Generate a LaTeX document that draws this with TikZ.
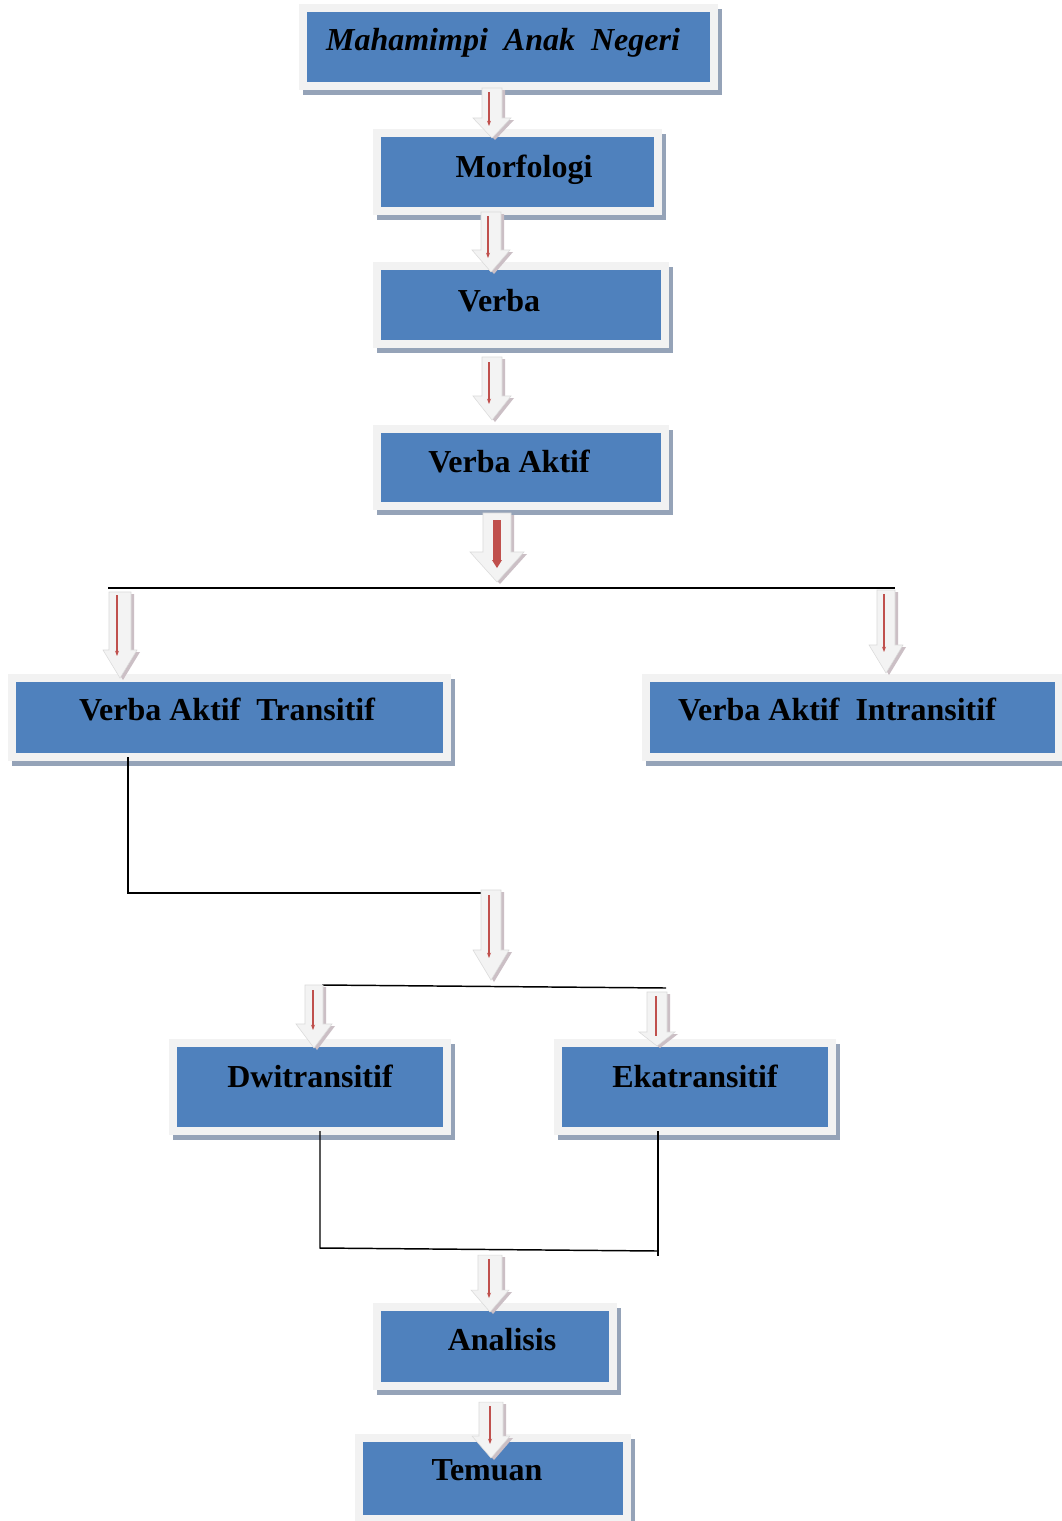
\documentclass[tikz,border=0pt]{standalone}
\usepackage{fontspec}
\setmainfont{Liberation Serif}
\usetikzlibrary{fit,arrows.meta}
\definecolor{boxblue}{HTML}{4F81BD}
\definecolor{boxrim}{HTML}{F2F2F2}
\definecolor{boxshade}{HTML}{95A3B8}
\definecolor{arrfill}{HTML}{F3F3F3}
\definecolor{arredge}{HTML}{DADADA}
\definecolor{arrshade}{HTML}{CBBFC5}
\definecolor{redline}{HTML}{C0504D}
\tikzset{
  box/.style={rectangle, inner sep=0pt, outer sep=0pt, fill=boxblue, draw=boxrim, line width=6pt,
    preaction={fill=boxshade, draw=boxshade, line width=6pt, transform canvas={shift={(4,5)}}}},
  lbl/.style={anchor=base, inner sep=0pt, font=\fontsize{24}{28}\selectfont\bfseries},
  conn/.style={draw=black, line width=1.1pt},
}
% x, ytop, ytip, shaft half, head half, head length
\newcommand{\blockarrow}[6]{%
  \fill[arrshade] ({#1-#4+3},{#2+2}) -- ({#1+#4+3},{#2+2}) -- ({#1+#4+3},{#3-#6+2}) -- ({#1+#5+3},{#3-#6+2}) -- ({#1+3},{#3+2}) -- ({#1-#5+3},{#3-#6+2}) -- ({#1-#4+3},{#3-#6+2}) -- cycle;
  \filldraw[fill=arrfill, draw=arredge, line width=0.4pt] ({#1-#4},{#2}) -- ({#1+#4},{#2}) -- ({#1+#4},{#3-#6}) -- ({#1+#5},{#3-#6}) -- ({#1},{#3}) -- ({#1-#5},{#3-#6}) -- ({#1-#4},{#3-#6}) -- cycle;
}
\newcommand{\redstem}[3]{%
  \draw[redline, line width=0.9pt, -{Stealth[length=4pt,width=3pt]}] ({#1},{#2}) -- ({#1},{#3});
}
\begin{document}
\begin{tikzpicture}[x=0.75pt, y=-0.75pt]
\useasboundingbox (0,0) rectangle (1062,1521);
\fill[white] (0,0) rectangle (1062,1521);

% boxes
\node[box, fit={(303,8) (714,86)}] (b1) {};
\node[box, fit={(377,133) (658,211)}] (b2) {};
\node[box, fit={(377,266) (665,344)}] (b3) {};
\node[box, fit={(377,429) (665,506)}] (b4) {};
\node[box, fit={(12,678) (447,757)}] (b5) {};
\node[box, fit={(646,678) (1059,757)}] (b6) {};
\node[box, fit={(173,1043) (447,1131)}] (b7) {};
\node[box, fit={(558,1043) (832,1131)}] (b8) {};
\node[box, fit={(377,1307) (613,1386)}] (b9) {};
\node[box, fit={(359,1438) (627,1519)}] (b10) {};

% labels
\node[lbl, font=\fontsize{24}{28}\selectfont\bfseries\itshape] (t1) at (503,50) {Mahamimpi\ \ Anak\ \ Negeri};
\node[lbl] (t2) at (524,177) {Morfologi};
\node[lbl] (t3) at (499,311) {Verba};
\node[lbl] (t4) at (509,472) {Verba Aktif};
\node[lbl] (t5) at (227,720) {Verba Aktif\ \ Transitif};
\node[lbl] (t6) at (837,720) {Verba Aktif\ \ Intransitif};
\node[lbl] (t7) at (310,1087) {Dwitransitif};
\node[lbl] (t8) at (695,1087) {Ekatransitif};
\node[lbl] (t9) at (502,1350) {Analisis};
\node[lbl] (t10) at (487,1480) {Temuan};

% connector lines
\coordinate (jl) at (108,588);
\coordinate (jr) at (895,588);
\draw[conn] (jl) -- (jr);
\coordinate (c1) at (128,893);
\coordinate (c2) at (482,893);
\draw[conn] (b5.south -| c1) -- (c1) -- (c2);
\coordinate (d1) at (322,985);
\coordinate (d2) at (666,988);
\draw[conn] (d1) -- (d2);
\coordinate (e1) at (320,1248);
\coordinate (e2) at (658,1251);
\coordinate (e3) at (658,1256);
\draw[conn] (b7.south -| e1) -- (e1) -- (e2);
\draw[conn] (b8.south -| e3) -- (e3);

% block arrows
\blockarrow{492}{88}{138}{10}{19}{20}
\redstem{489}{92}{126}
\blockarrow{491}{212}{272}{10}{19}{22}
\redstem{488}{216}{258}
\blockarrow{492}{357}{420}{10}{19}{24}
\redstem{489}{362}{404}
\blockarrow{497}{513}{582}{14}{27}{30}
\draw[redline, line width=6pt] (497,520) -- (497,560);
\fill[redline] (492,560) -- (502,560) -- (497,568) -- cycle;
\blockarrow{120}{592}{678}{11}{17}{28}
\redstem{117}{595}{656}
\blockarrow{886}{590}{673}{9}{17}{28}
\redstem{884}{594}{652}
\blockarrow{491}{890}{980}{10}{18}{30}
\redstem{489}{895}{958}
\blockarrow{314}{985}{1048}{9}{18}{24}
\redstem{313}{990}{1030}
\blockarrow{657}{992}{1046}{10}{18}{14}
\draw[redline, line width=0.9pt] (656,996) -- (656,1036);
\blockarrow{490}{1255}{1312}{12}{19}{22}
\redstem{489}{1259}{1298}
\blockarrow{491}{1402}{1458}{12}{19}{22}
\redstem{490}{1406}{1444}
\end{tikzpicture}
\end{document}
